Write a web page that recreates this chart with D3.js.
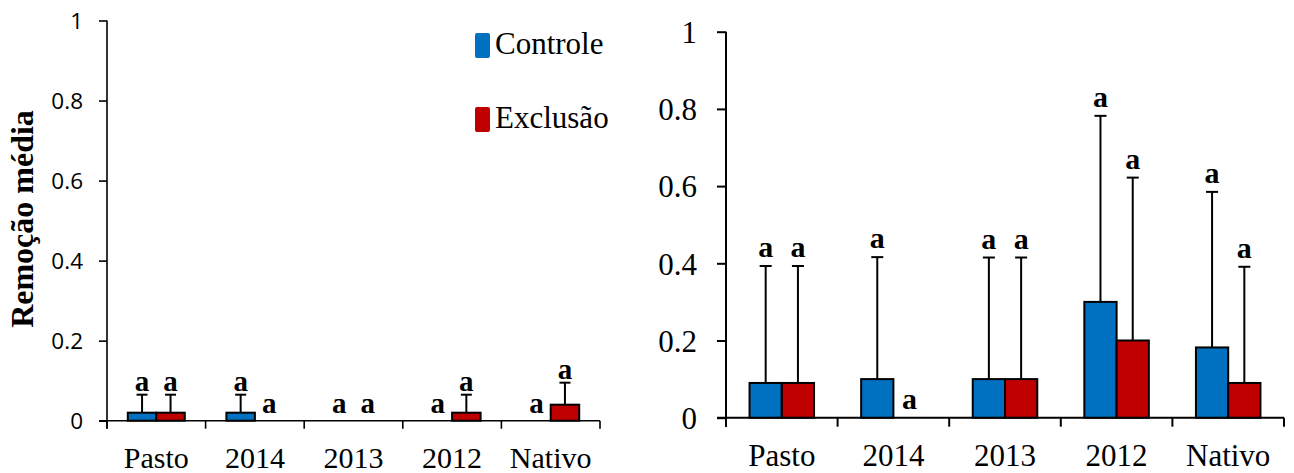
<!DOCTYPE html>
<html>
<head>
<meta charset="utf-8">
<script src="https://cdn.jsdelivr.net/npm/d3@7"></script>
<style>
  html, body { margin: 0; padding: 0; background: #fff; }
  svg { display: block; }
</style>
</head>
<body>
<svg id="chart" width="1294" height="473"></svg>
<script>
// Categories shared by both panels
const categories = ["Pasto", "2014", "2013", "2012", "Nativo"];
const seriesNames = ["Controle", "Exclusão"];
const seriesColors = ["#0070C0", "#C00000"];
const yTicks = [0, 0.2, 0.4, 0.6, 0.8, 1];

// Left panel: mean removal and upper error
const leftControle = [0.02, 0.02, 0, 0, 0];
const leftExclusao = [0.02, 0, 0, 0.02, 0.04];
const leftControleErr = [0.045, 0.045, 0, 0, 0];
const leftExclusaoErr = [0.045, 0, 0, 0.045, 0.055];
const leftLetters = [["a", "a", "a", "a", "a"], ["a", "a", "a", "a", "a"]];

// Right panel: mean removal and upper error
const rightControle = [0.09, 0.1, 0.1, 0.3, 0.182];
const rightExclusao = [0.09, 0, 0.1, 0.2, 0.09];
const rightControleErr = [0.303, 0.316, 0.315, 0.482, 0.403];
const rightExclusaoErr = [0.303, 0, 0.315, 0.422, 0.301];
const rightLetters = [["a", "a", "a", "a", "a"], ["a", "a", "a", "a", "a"]];

const svg = d3.select("#chart");
const serif = "'Liberation Serif', 'Times New Roman', serif";

function drawPanel(p) {
  const g = svg.append("g");
  const y = d3.scaleLinear().domain([0, 1]).range([p.y0, p.y1]);
  const x0 = d3.scaleBand().domain(categories).range([p.x0, p.x1]).paddingInner(0).paddingOuter(0);
  const x1 = d3.scaleBand().domain(seriesNames).range([0, x0.bandwidth()]).paddingInner(0).paddingOuter(0.73);

  const values = [p.controle, p.exclusao];
  const errs = [p.controleErr, p.exclusaoErr];

  // y axis
  const yAxis = d3.axisLeft(y).tickValues(yTicks).tickSize(p.tick).tickSizeOuter(0)
    .tickPadding(p.tickPad).tickFormat(d3.format("~g"));
  const ya = g.append("g").attr("transform", `translate(${p.x0},0)`).call(yAxis);
  ya.select(".domain").attr("stroke", "#000").attr("stroke-width", p.axisWidth)
    .attr("d", `M0,${p.y1}V${p.y0 + p.tick}`);
  ya.selectAll(".tick line").attr("stroke", "#000").attr("stroke-width", p.axisWidth);
  ya.selectAll(".tick text").attr("font-family", p.tickFont).attr("font-size", p.tickSize)
    .attr("fill", "#000").attr("dy", "0.35em");

  // x axis with ticks at category boundaries
  const xa = g.append("g");
  xa.append("line").attr("x1", p.x0 - p.tick).attr("x2", p.x1)
    .attr("y1", y(0)).attr("y2", y(0)).attr("stroke", "#000").attr("stroke-width", p.axisWidth);
  const bounds = categories.map(c => x0(c)).concat([x0(categories[categories.length - 1]) + x0.bandwidth()]);
  xa.selectAll("line.xt").data(bounds).join("line").attr("class", "xt")
    .attr("x1", d => d).attr("x2", d => d)
    .attr("y1", y(0)).attr("y2", y(0) + p.tick)
    .attr("stroke", "#000").attr("stroke-width", p.axisWidth);
  xa.selectAll("text").data(categories).join("text")
    .attr("x", d => x0(d) + x0.bandwidth() / 2)
    .attr("y", p.xLabelY)
    .attr("text-anchor", "middle")
    .attr("font-family", serif)
    .attr("font-size", p.xLabelSize)
    .text(d => d);

  seriesNames.forEach((s, si) => {
    const sg = g.append("g");
    const rows = categories.map((c, i) => ({ c, v: values[si][i], e: errs[si][i], l: p.letters[si][i] }));
    // bars
    sg.selectAll("rect").data(rows.filter(d => d.v > 0)).join("rect")
      .attr("x", d => x0(d.c) + x1(s))
      .attr("y", d => y(d.v))
      .attr("width", x1.bandwidth())
      .attr("height", d => y(0) - y(d.v))
      .attr("fill", seriesColors[si])
      .attr("stroke", "#000").attr("stroke-width", 2);
    // error bars (upper only)
    const withErr = rows.filter(d => d.e > 0);
    sg.selectAll("line.eb").data(withErr).join("line").attr("class", "eb")
      .attr("x1", d => x0(d.c) + x1(s) + x1.bandwidth() / 2)
      .attr("x2", d => x0(d.c) + x1(s) + x1.bandwidth() / 2)
      .attr("y1", d => y(d.v)).attr("y2", d => y(d.v + d.e))
      .attr("stroke", "#000").attr("stroke-width", 2);
    sg.selectAll("line.cap").data(withErr).join("line").attr("class", "cap")
      .attr("x1", d => x0(d.c) + x1(s) + x1.bandwidth() / 2 - p.cap / 2)
      .attr("x2", d => x0(d.c) + x1(s) + x1.bandwidth() / 2 + p.cap / 2)
      .attr("y1", d => y(d.v + d.e)).attr("y2", d => y(d.v + d.e))
      .attr("stroke", "#000").attr("stroke-width", 2);
    // significance letters
    sg.selectAll("text").data(rows).join("text")
      .attr("x", d => x0(d.c) + x1(s) + x1.bandwidth() / 2)
      .attr("y", d => y(d.v + d.e) - (d.v + d.e > 0 ? p.letterGap : p.letterGapZero))
      .attr("text-anchor", "middle")
      .attr("font-family", serif)
      .attr("font-weight", "bold")
      .attr("font-size", p.letterSize)
      .text(d => d.l);
  });
  return g;
}

drawPanel({
  x0: 107, x1: 600, y0: 420.7, y1: 20.5, tick: 8, tickPad: 16, axisWidth: 1.6,
  tickFont: "'Open Sans', 'Liberation Sans', sans-serif", tickSize: 22.5,
  xLabelY: 468, xLabelSize: 30, cap: 11, letterGap: 4, letterGapZero: 8, letterSize: 29,
  controle: leftControle, exclusao: leftExclusao,
  controleErr: leftControleErr, exclusaoErr: leftExclusaoErr, letters: leftLetters
});

drawPanel({
  x0: 726, x1: 1284, y0: 417.7, y1: 31.7, tick: 9, tickPad: 20, axisWidth: 2,
  tickFont: serif, tickSize: 31,
  xLabelY: 466, xLabelSize: 31, cap: 12, letterGap: 9, letterGapZero: 9, letterSize: 30,
  controle: rightControle, exclusao: rightExclusao,
  controleErr: rightControleErr, exclusaoErr: rightExclusaoErr, letters: rightLetters
});

// y axis title of the left panel
svg.append("text")
  .attr("transform", "translate(33,219) rotate(-90)")
  .attr("text-anchor", "middle")
  .attr("font-family", serif)
  .attr("font-weight", "bold")
  .attr("font-size", 32)
  .text("Remoção média");

// legend
const legend = svg.append("g");
const legendY = [33, 107];
seriesNames.forEach((s, i) => {
  legend.append("rect").attr("x", 475).attr("y", legendY[i]).attr("width", 15).attr("height", 25)
    .attr("rx", 2).attr("fill", seriesColors[i]);
  legend.append("text").attr("x", 495).attr("y", legendY[i] + 21)
    .attr("font-family", serif)
    .attr("font-size", 31)
    .text(s);
});
</script>
</body>
</html>
